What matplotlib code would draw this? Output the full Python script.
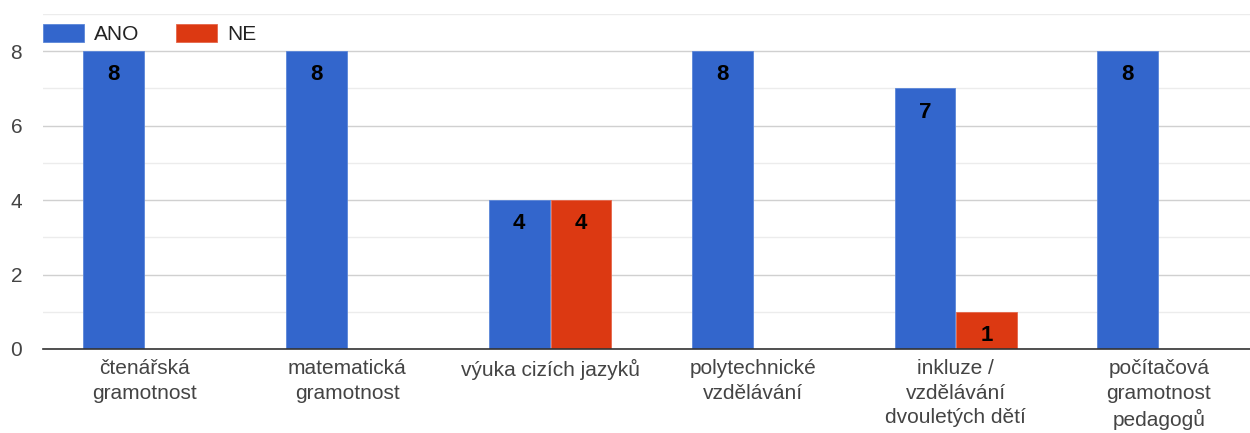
import numpy as np
import matplotlib.pyplot as plt

plt.rcParams['font.family'] = ['Liberation Sans', 'DejaVu Sans']

kategorie = ['čtenářská\ngramotnost', 'matematická\ngramotnost', 'výuka cizích jazyků',
             'polytechnické\nvzdělávání', 'inkluze /\nvzdělávání\ndvouletých dětí',
             'počítačová\ngramotnost\npedagogů']
ano = [8, 8, 4, 8, 7, 8]
ne = [0, 0, 4, 0, 1, 0]

fig = plt.figure(figsize=(12.5, 4.33), dpi=100)
ax = fig.add_axes([43 / 1250, 1 - 349 / 433, 1207 / 1250, 335 / 433])

x = np.arange(len(kategorie))
w = 0.3
b1 = ax.bar(x - 0.152, ano, w, color='#3366CC', edgecolor='#5b86d8', linewidth=0.6, label='ANO', zorder=3)
b2 = ax.bar(x + 0.152, ne, w, color='#DC3912', edgecolor='#e5664a', linewidth=0.6, label='NE', zorder=3)

# popisky hodnot uvnitř sloupců
for bars, vals in ((b1, ano), (b2, ne)):
    for r, v in zip(bars, vals):
        if v > 0:
            ax.annotate(str(v), (r.get_x() + r.get_width() / 2, v), xytext=(0, -17),
                        textcoords='offset points', ha='center', va='center',
                        fontsize=16, fontweight='bold', color='black', zorder=4)

ax.set_xlim(-0.5, 5.45)
ax.set_ylim(0, 9)
ax.set_yticks([0, 2, 4, 6, 8])
ax.set_yticks([1, 3, 5, 7, 9], minor=True)
ax.grid(axis='y', which='major', color='#d0d0d0', linewidth=1, zorder=0)
ax.grid(axis='y', which='minor', color='#ececec', linewidth=1, zorder=0)
ax.tick_params(axis='y', which='both', length=0, pad=15, labelsize=15, labelcolor='#444444')
ax.tick_params(axis='x', length=0, pad=7.5, labelsize=15, labelcolor='#444444')
ax.set_xticks(x)
ax.set_xticklabels(kategorie, linespacing=1.35, va='top')

for s in ('top', 'right', 'left'):
    ax.spines[s].set_visible(False)
ax.spines['bottom'].set_color('#333333')
ax.spines['bottom'].set_linewidth(1.2)
ax.spines['bottom'].set_zorder(5)

ax.legend(loc='upper left', bbox_to_anchor=(-0.003, 0.978), ncol=2, frameon=True, facecolor='white',
          edgecolor='white', framealpha=1, fontsize=15, handlelength=2.0, handleheight=0.91,
          handletextpad=0.48, columnspacing=1.73, borderpad=0.15, borderaxespad=0,
          labelcolor='#222222')

fig.savefig('out.png', dpi=100)
